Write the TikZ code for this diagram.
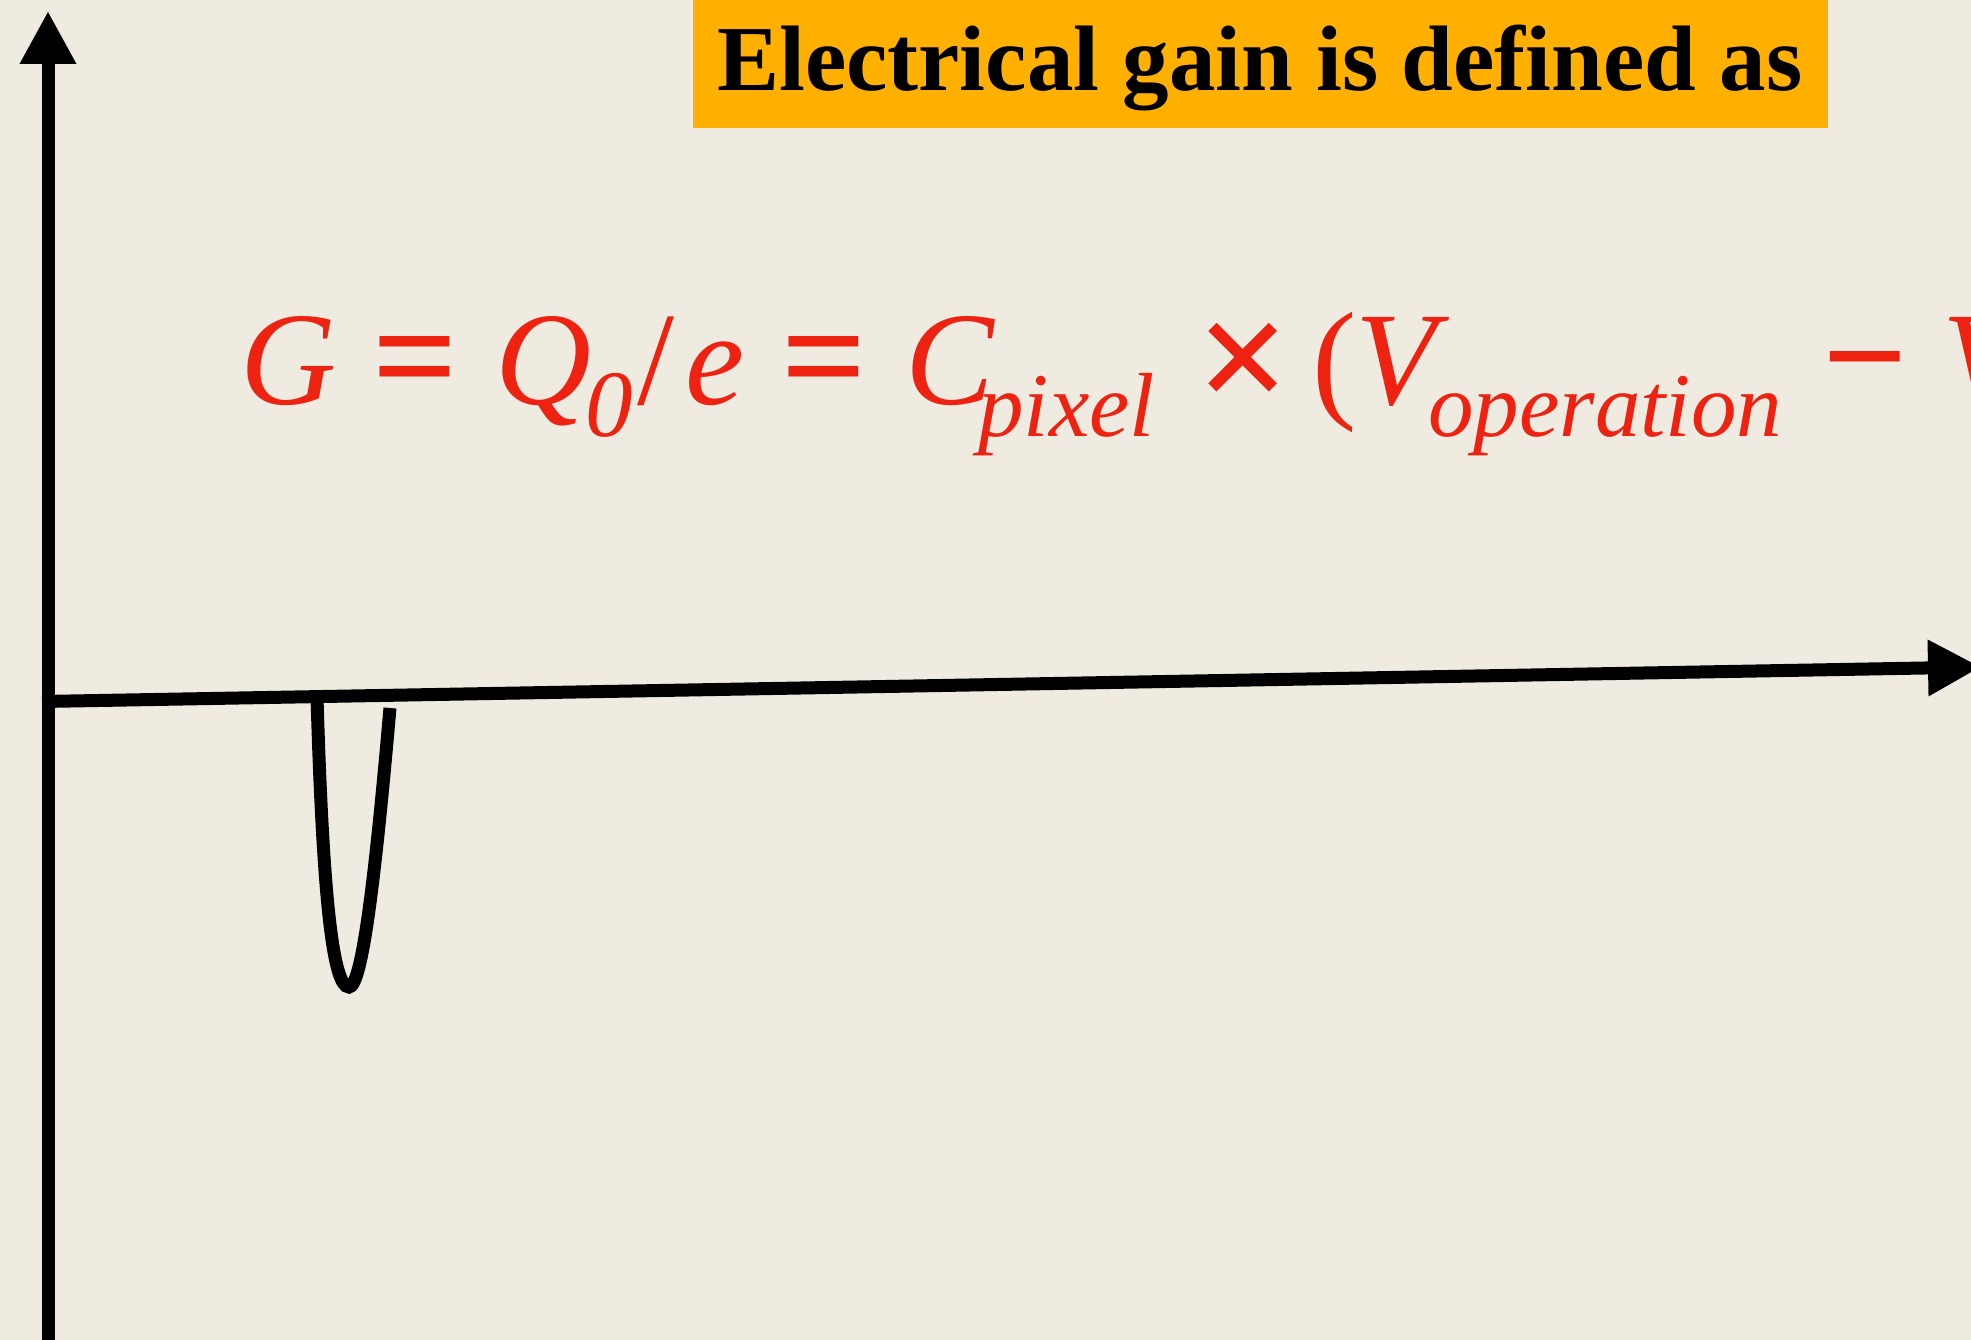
\documentclass[tikz,border=0pt]{standalone}
\usepackage{fontspec}
\setmainfont{Liberation Serif}
\usetikzlibrary{arrows.meta}
\definecolor{bgc}{RGB}{239,235,224}
\definecolor{banner}{RGB}{255,176,0}
\definecolor{fred}{RGB}{238,34,17}
\begin{document}
\begin{tikzpicture}[x=1pt,y=-1pt,
  axis/.style={line width=13pt,-{Triangle[length=53pt,width=53pt]}},
  fm/.style={anchor=base west,inner sep=0pt,text=fred,font=\fontsize{133}{133}\selectfont},
  fop/.style={anchor=base west,inner sep=0pt,text=fred,font=\fontsize{150}{150}\selectfont\bfseries},
  fs/.style={anchor=base west,inner sep=0pt,text=fred,font=\fontsize{91}{91}\selectfont\itshape}]
\useasboundingbox (0,0) rectangle (1971,1340);
\clip (0,0) rectangle (1971,1340);
\fill[bgc] (0,0) rectangle (1971,1340);
% banner
\fill[banner] (693,0) rectangle (1828,128);
\node[anchor=base west,inner sep=0pt,font=\fontsize{93}{93}\selectfont\bfseries] (title) at (717,91) {Electrical gain is defined as};
% axes
\coordinate (ybot) at (48,1360);
\coordinate (ytip) at (48,11);
\coordinate (o) at (42,701.5);
\coordinate (xtip) at (1981,667);
\draw[axis] (ybot) -- (ytip);
\draw[axis] (o) -- (xtip);
% curve
\coordinate (cs) at (317,697);
\coordinate (cb) at (349,987);
\coordinate (ce) at (390,708);
\draw[line width=13pt] (cs) .. controls (323,900) and (333,987) .. (cb) .. controls (362,987) and (375,880) .. (ce);
% formula
\node[fm] (G) at (240,404) {\itshape G};
\node[fop] (eq1) at (372,406) {=};
\node[fm] (Q) at (495,404) {\itshape Q};
\node[fs,font=\fontsize{95}{95}\selectfont\itshape] (s0) at (585,436) {0};
\node[fm] (sl) at (637,404) {/};
\node[fm] (e) at (685,404) {\itshape e};
\node[fop] (eq2) at (781,406) {=};
\node[fm] (C) at (905,404) {\itshape C};
\node[fs] (pix) at (978,436) {pixel};
\node[fop,font=\fontsize{165}{165}\selectfont\bfseries] (tm) at (1196,412) {×};
\node[fm] (par) at (1312,404) {(};
\node[fm] (V1) at (1355,404) {\itshape V};
\node[fs] (op) at (1428,436) {operation};
\node[fop] (mn) at (1822,406) {−};
\node[fm] (V2) at (1942,404) {\itshape V};
\end{tikzpicture}
\end{document}
